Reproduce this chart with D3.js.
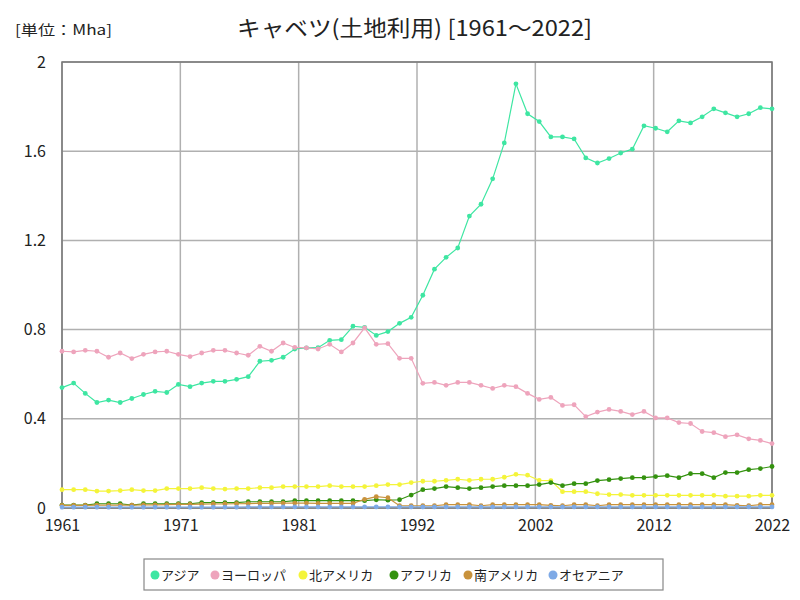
<!DOCTYPE html>
<html><head><meta charset="utf-8">
<script src="https://cdn.jsdelivr.net/npm/d3@7"></script>
<style>
html,body{margin:0;padding:0;background:#fff;}
text{font-family:"Noto Sans CJK JP","Noto Sans",sans-serif;}
</style></head>
<body><svg id="c" width="800" height="600"></svg>
<script>
const years = d3.range(1961, 2023);
const seriesNames = ["アジア","ヨーロッパ","北アメリカ","アフリカ","南アメリカ","オセアニア"];
const seriesColors = ["#3ee6a2","#eea4bc","#f4f43a","#34920f","#c8923c","#7eaae6"];
const asia = [0.54,0.56,0.514,0.473,0.484,0.473,0.491,0.509,0.523,0.518,
 0.554,0.544,0.56,0.568,0.568,0.577,0.589,0.658,0.662,0.676,
 0.713,0.718,0.719,0.752,0.755,0.815,0.81,0.774,0.791,0.828,
 0.855,0.954,1.071,1.124,1.166,1.309,1.362,1.476,1.637,1.902,
 1.768,1.733,1.664,1.664,1.655,1.57,1.547,1.567,1.592,1.609,
 1.714,1.703,1.687,1.736,1.727,1.754,1.79,1.772,1.754,1.768,
 1.795,1.79];
const europe = [0.703,0.70,0.707,0.703,0.676,0.695,0.67,0.689,0.70,0.703,
 0.689,0.679,0.695,0.707,0.707,0.695,0.685,0.725,0.703,0.74,
 0.72,0.718,0.713,0.734,0.70,0.74,0.808,0.734,0.737,0.671,
 0.671,0.559,0.563,0.55,0.563,0.563,0.55,0.536,0.55,0.544,
 0.514,0.487,0.496,0.46,0.463,0.41,0.43,0.442,0.433,0.419,
 0.433,0.404,0.404,0.383,0.379,0.343,0.338,0.32,0.328,0.31,
 0.303,0.289];
const northAmerica = [0.082,0.082,0.082,0.076,0.076,0.078,0.082,0.078,0.078,0.087,
 0.087,0.087,0.091,0.087,0.085,0.087,0.087,0.091,0.091,0.096,
 0.096,0.096,0.096,0.1,0.096,0.096,0.096,0.1,0.105,0.105,
 0.114,0.12,0.12,0.124,0.129,0.124,0.129,0.129,0.138,0.151,
 0.147,0.124,0.123,0.073,0.073,0.073,0.064,0.06,0.06,0.057,
 0.057,0.057,0.057,0.057,0.057,0.057,0.057,0.053,0.053,0.053,
 0.057,0.057];
const africa = [0.013,0.013,0.013,0.019,0.019,0.019,0.013,0.019,0.019,0.019,
 0.019,0.019,0.024,0.024,0.024,0.024,0.028,0.028,0.028,0.028,
 0.033,0.033,0.033,0.033,0.033,0.033,0.033,0.037,0.035,0.037,
 0.058,0.082,0.087,0.096,0.091,0.087,0.091,0.096,0.1,0.1,
 0.1,0.105,0.114,0.1,0.109,0.109,0.123,0.127,0.132,0.136,
 0.136,0.141,0.145,0.136,0.154,0.154,0.136,0.159,0.159,0.172,
 0.177,0.186];
const southAmerica = [0.012,0.012,0.012,0.013,0.013,0.013,0.013,0.014,0.014,0.015,
 0.016,0.016,0.017,0.018,0.018,0.019,0.02,0.021,0.021,0.022,
 0.022,0.022,0.021,0.021,0.021,0.021,0.039,0.051,0.046,0.01,
 0.01,0.01,0.01,0.015,0.015,0.015,0.01,0.015,0.015,0.015,
 0.015,0.015,0.012,0.01,0.015,0.015,0.01,0.015,0.015,0.015,
 0.015,0.015,0.015,0.015,0.015,0.015,0.015,0.015,0.012,0.01,
 0.015,0.015];
const oceania = [0.004,0.004,0.004,0.004,0.004,0.004,0.004,0.004,0.004,0.004,
 0.004,0.004,0.004,0.004,0.004,0.004,0.005,0.005,0.005,0.005,
 0.005,0.005,0.005,0.005,0.005,0.005,0.005,0.005,0.005,0.005,
 0.005,0.005,0.005,0.005,0.005,0.005,0.005,0.005,0.005,0.005,
 0.005,0.005,0.005,0.005,0.005,0.005,0.005,0.005,0.005,0.005,
 0.005,0.005,0.005,0.005,0.005,0.005,0.005,0.005,0.005,0.005,
 0.005,0.005];
const allSeries = [asia, europe, northAmerica, africa, southAmerica, oceania];
const yTicks = [0, 0.4, 0.8, 1.2, 1.6, 2];

const svg = d3.select("#c");
const L = 62, R = 772, T = 62, B = 508;
const x = d3.scaleLinear().domain([1961, 2022]).range([L, R]);
const y = d3.scaleLinear().domain([0, 2]).range([B, T]);
const xTicks = d3.range(0, 7).map(k => 1961 + k * 61 / 6);

// grid
svg.append("g").selectAll("line").data(xTicks).join("line")
  .attr("x1", d => x(d)).attr("x2", d => x(d)).attr("y1", T).attr("y2", B)
  .attr("stroke", "#b0b0b0").attr("stroke-width", 1.5);
svg.append("g").selectAll("line").data(yTicks).join("line")
  .attr("x1", L).attr("x2", R).attr("y1", d => y(d)).attr("y2", d => y(d))
  .attr("stroke", "#b0b0b0").attr("stroke-width", 1.5);

// axes
const xAxis = svg.append("g").attr("transform", `translate(0,${B})`)
  .call(d3.axisBottom(x).tickValues(xTicks).tickFormat(d => Math.round(d)).tickSize(0).tickPadding(12));
const yAxis = svg.append("g").attr("transform", `translate(${L},0)`)
  .call(d3.axisLeft(y).tickValues(yTicks).tickFormat(d => d).tickSize(0).tickPadding(16));
[xAxis, yAxis].forEach(a => {
  a.select(".domain").remove();
  a.selectAll("text").attr("font-size", 16).attr("fill", "#222")
   .style("font-family", '"Noto Sans CJK JP",sans-serif');
});

// frame
svg.append("rect").attr("x", L).attr("y", T).attr("width", R - L).attr("height", B - T)
  .attr("fill", "none").attr("stroke", "#777").attr("stroke-width", 1.5);

// series
const line = d3.line().x((d, i) => x(years[i])).y(d => y(d));
allSeries.forEach((s, k) => {
  const g = svg.append("g");
  g.append("path").datum(s).attr("d", line).attr("fill", "none")
    .attr("stroke", seriesColors[k]).attr("stroke-width", 1.2);
  g.selectAll("circle").data(s).join("circle")
    .attr("cx", (d, i) => x(years[i])).attr("cy", d => y(d)).attr("r", 2.4)
    .attr("fill", seriesColors[k]);
});

// titles
svg.append("text").attr("x", 237).attr("y", 36)
  .attr("font-size", 22).attr("fill", "#222")
  .attr("textLength", 355).attr("lengthAdjust", "spacingAndGlyphs")
  .text("キャベツ(土地利用) [1961～2022]");
svg.append("text").attr("x", 15).attr("y", 35).attr("font-size", 14).attr("fill", "#222")
  .attr("textLength", 97).attr("lengthAdjust", "spacingAndGlyphs")
  .text("[単位：Mha]");

// legend
const lg = svg.append("g");
lg.append("rect").attr("x", 144).attr("y", 559).attr("width", 519).attr("height", 31)
  .attr("fill", "#fff").attr("stroke", "#888").attr("stroke-width", 1.2);
const legendX = [155, 215, 303, 394, 468, 553];
seriesNames.forEach((n, k) => {
  lg.append("circle").attr("cx", legendX[k]).attr("cy", 575).attr("r", 4.5).attr("fill", seriesColors[k]);
  lg.append("text").attr("x", legendX[k] + 6).attr("y", 580).attr("font-size", 13)
    .attr("fill", "#222").text(n);
});
</script></body></html>
